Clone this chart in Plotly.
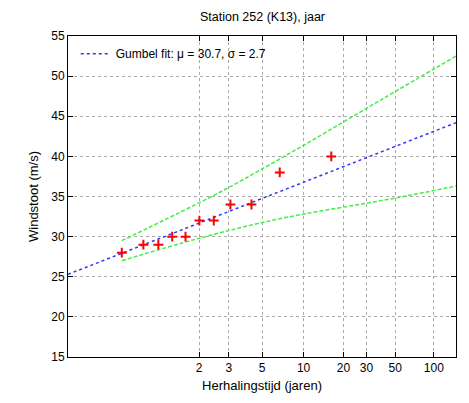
import math
import plotly.graph_objects as go

# Data
wind_obs = [28, 29, 29, 30, 30, 32, 32, 34, 34, 38, 40]
obs_reduced = [-1.03, -0.64, -0.37, -0.12, 0.12, 0.37, 0.63, 0.93, 1.31, 1.82, 2.75]

fit_label = "Gumbel fit: \u03bc = 30.7, \u03c3 = 2.7"
fit_x = [-2.0, 5.0]
fit_y = [25.3, 44.2]

upper_x = [-1.03, 0.73, 1.80, 2.43, 3.66, 5.0]
upper_y = [29.5, 35.5, 39.6, 42.1, 47.1, 52.5]
lower_x = [-1.03, 0.37, 1.80, 3.90, 5.0]
lower_y = [27.0, 29.8, 32.2, 34.8, 36.3]

return_periods = [2, 3, 5, 10, 20, 30, 50, 100]
tick_labels = [str(t) for t in return_periods]
tick_pos = [-math.log(-math.log(1 - 1 / t)) for t in return_periods]

FONT = "Liberation Sans, Arial, sans-serif"

fig = go.Figure()
fig.add_trace(go.Scatter(x=fit_x, y=fit_y, mode="lines", name=fit_label,
                         line=dict(color="#3333ff", width=1.5, dash="dot")))
fig.add_trace(go.Scatter(x=upper_x, y=upper_y, mode="lines", showlegend=False,
                         line=dict(color="#44ee44", width=1.5, dash="4px,2px", shape="spline")))
fig.add_trace(go.Scatter(x=lower_x, y=lower_y, mode="lines", showlegend=False,
                         line=dict(color="#44ee44", width=1.5, dash="4px,2px", shape="spline")))
fig.add_trace(go.Scatter(x=obs_reduced, y=wind_obs, mode="markers", showlegend=False,
                         marker=dict(symbol="cross-thin", size=7, color="red",
                                     line=dict(color="red", width=2))))

fig.update_layout(
    width=469, height=403,
    margin=dict(l=68, r=12, t=36, b=44),
    paper_bgcolor="white", plot_bgcolor="white",
    font=dict(family=FONT, size=12, color="black"),
    title=dict(text="Station 252 (K13), jaar", x=(68 + 457) / 2 / 469, xanchor="center",
               y=1 - 17 / 403, yanchor="middle", font=dict(size=12.5)),
    legend=dict(x=0.02, y=0.99, xanchor="left", yanchor="top", bgcolor="rgba(0,0,0,0)",
                font=dict(size=12)),
    showlegend=True,
)
fig.update_xaxes(
    range=[-2, 5], tickvals=tick_pos, ticktext=tick_labels,
    showline=True, linecolor="black", linewidth=1, mirror="allticks",
    ticks="inside", ticklen=5, tickcolor="black",
    showgrid=True, gridcolor="#aaaaaa", griddash="dot", gridwidth=1,
    zeroline=False,
    title=dict(text="Herhalingstijd (jaren)", standoff=6, font=dict(size=13)),
)
fig.update_yaxes(
    range=[15, 55], tickvals=[15, 20, 25, 30, 35, 40, 45, 50, 55],
    showline=True, linecolor="black", linewidth=1, mirror="allticks",
    ticks="inside", ticklen=5, tickcolor="black",
    showgrid=True, gridcolor="#aaaaaa", griddash="dot", gridwidth=1,
    zeroline=False,
    title=dict(text="Windstoot (m/s)", standoff=9, font=dict(size=13)),
)

fig.write_html("out.html")
